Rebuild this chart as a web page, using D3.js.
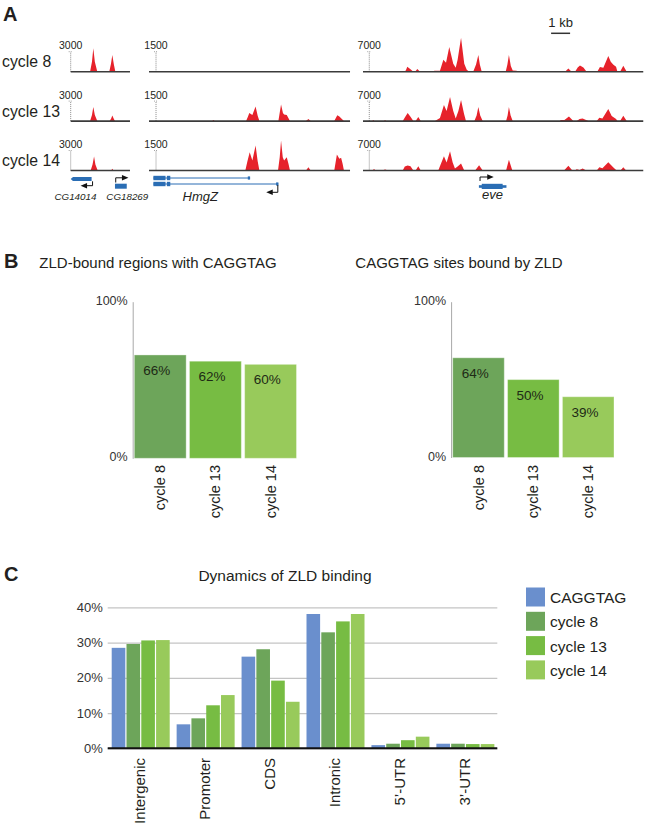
<!DOCTYPE html>
<html><head><meta charset="utf-8">
<script src="https://cdn.jsdelivr.net/npm/d3@7"></script>
<style>
html,body{margin:0;padding:0;background:#fff;}
svg{display:block;font-family:"Liberation Sans",Arial,Helvetica,sans-serif;}
</style></head><body>
<svg id="fig" width="649" height="832"></svg>
<script>
// ---------------- DATA ----------------
// Panel A: ChIP-seq coverage tracks ([position kb, read value])
const cycles = ["cycle 8", "cycle 13", "cycle 14"];
const trackScaleLabels = [3000, 1500, 7000];
const trackLengthsKb = [3.12, 10.58, 14.75];

const track1_c8  = [[0,0],[1.02,0],[1.12,1500],[1.19,3500],[1.27,1500],[1.40,0],[2.03,0],[2.12,1200],[2.19,2500],[2.27,1100],[2.35,0],[3.12,0]];
const track1_c13 = [[0,0],[1.02,0],[1.12,900],[1.19,2100],[1.27,900],[1.40,0],[2.05,0],[2.13,400],[2.19,850],[2.26,400],[2.33,0],[3.12,0]];
const track1_c14 = [[0,0],[1.05,0],[1.15,900],[1.23,2100],[1.30,900],[1.42,0],[2.13,0],[2.19,250],[2.25,0],[3.12,0]];

const track2_c8  = [[0,0],[10.58,0]];
const track2_c13 = [[0,0],[3.33,0],[3.39,75],[3.45,0],[5.11,0],[5.20,300],[5.28,600],[5.44,450],[5.61,1100],[5.72,400],[5.81,0],[6.81,0],[6.95,1250],[7.05,600],[7.11,490],[7.25,450],[7.42,0],[8.26,0],[8.39,150],[8.51,0],[9.75,0],[9.91,430],[10.02,350],[10.26,0],[10.58,0]];
const track2_c14 = [[0,0],[5.07,0],[5.18,700],[5.30,1375],[5.44,750],[5.61,1875],[5.72,700],[5.81,0],[6.79,0],[6.88,1000],[6.95,2250],[7.04,1000],[7.11,750],[7.25,1000],[7.34,500],[7.42,0],[8.26,0],[8.39,250],[8.51,0],[9.75,0],[9.89,1200],[10.02,875],[10.11,950],[10.19,500],[10.26,0],[10.58,0]];

const track3_c8  = [[0,0],[2.21,0],[2.28,900],[2.33,1750],[2.50,900],[2.65,0],[2.74,0],[2.86,950],[3.00,0],[3.70,0],[3.75,350],[4.05,350],[4.23,4200],[4.37,3150],[4.54,8650],[4.75,2800],[4.88,1400],[4.98,4200],[5.16,11900],[5.33,2800],[5.46,700],[5.56,200],[5.81,200],[5.95,2500],[6.07,5850],[6.15,2500],[6.25,0],[7.51,0],[7.60,2500],[7.68,5850],[7.78,2000],[7.88,400],[8.09,300],[8.12,0],[10.63,0],[10.81,1150],[10.98,0],[11.16,0],[11.30,1500],[11.42,2200],[11.60,1500],[11.77,0],[12.33,0],[12.47,1650],[12.65,1400],[12.91,5500],[13.04,3500],[13.18,2450],[13.32,1750],[13.39,0],[13.53,0],[13.70,2100],[13.88,0],[14.75,0]];
const track3_c13 = [[0,0],[0.49,0],[0.54,350],[0.59,0],[1.11,0],[1.16,350],[1.21,0],[2.09,0],[2.25,1800],[2.35,2800],[2.50,1500],[2.65,0],[2.77,0],[2.91,1400],[3.04,0],[3.79,0],[4.05,1050],[4.26,5600],[4.40,3500],[4.58,8400],[4.75,3500],[4.88,950],[5.02,3500],[5.16,7350],[5.32,2450],[5.42,0],[5.86,0],[5.98,2000],[6.07,4900],[6.17,2000],[6.30,0],[7.53,0],[7.61,2000],[7.68,4900],[7.77,2000],[7.88,0],[10.37,0],[10.40,350],[10.60,350],[10.84,1650],[11.07,0],[11.25,0],[11.40,700],[11.56,950],[11.86,0],[12.30,0],[12.44,1150],[12.60,900],[12.91,4200],[13.09,1750],[13.32,700],[13.39,0],[13.53,0],[13.70,1850],[13.88,0],[14.75,0]];
const track3_c14 = [[0,0],[0.50,0],[0.58,525],[0.66,0],[1.00,0],[1.16,350],[1.33,0],[2.09,0],[2.20,1400],[2.35,1750],[2.50,1500],[2.65,0],[2.77,0],[2.91,1500],[3.04,0],[3.96,0],[4.26,5000],[4.40,2800],[4.58,6750],[4.72,2800],[4.84,700],[4.98,1400],[5.16,2450],[5.33,0],[5.90,0],[6.11,1850],[6.30,0],[7.53,0],[7.68,3750],[7.86,0],[10.58,0],[10.81,1650],[11.02,0],[11.15,0],[11.25,450],[11.40,200],[11.56,700],[11.75,0],[12.30,0],[12.44,1150],[12.60,800],[12.91,2900],[13.18,1050],[13.35,0],[13.55,0],[13.70,1150],[13.85,0],[14.75,0]];

const geneNames = ["CG14014", "CG18269", "HmgZ", "eve"];

// Panel B
const bCycles = ["cycle 8", "cycle 13", "cycle 14"];
const regionsWithMotif = [66, 62, 60];
const sitesBoundByZLD = [64, 50, 39];
const bTicks = [0, 100];

// Panel C
const cCategories = ["Intergenic", "Promoter", "CDS", "Intronic", "5\u2019-UTR", "3\u2019-UTR"];
const cSeries = ["CAGGTAG", "cycle 8", "cycle 13", "cycle 14"];
const cCAGGTAG = [28.5, 6.8, 26.0, 38.1, 0.9, 1.3];
const cCycle8  = [29.6, 8.5, 28.1, 32.9, 1.3, 1.3];
const cCycle13 = [30.6, 12.2, 19.2, 36.0, 2.3, 1.2];
const cCycle14 = [30.7, 15.1, 13.2, 38.1, 3.3, 1.2];
const cTicks = [0, 10, 20, 30, 40];

// ---------------- DRAWING ----------------
const svg = d3.select("#fig");
const TXT = "#231f20";
const RED = "#e6222b";
const GENE = "#2a6db4";
const greens = ["#6da55a", "#77bc43", "#98ca5b"];
const seriesColor = d3.scaleOrdinal().domain(cSeries).range(["#6a8fcd", ...greens]);

function panelLabel(t, x, y) {
  svg.append("text").attr("x", x).attr("y", y).attr("font-size", 20).attr("font-weight", "bold")
    .attr("fill", TXT).text(t);
}

// ======== Panel A ========
panelLabel("A", 3, 21);
const rowY = d3.scalePoint().domain(cycles).range([71.7, 170.5]);
const PX_PER_KB = 19;
const trackX0 = [70.7, 149, 363];
const dottedKb = [0.0, 0.37, 0.33];
const trackData = [
  [track1_c8, track1_c13, track1_c14],
  [track2_c8, track2_c13, track2_c14],
  [track3_c8, track3_c13, track3_c14]
];
const xTrack = trackLengthsKb.map((len, i) =>
  d3.scaleLinear().domain([0, len]).range([trackX0[i], trackX0[i] + len * PX_PER_KB]));

cycles.forEach((cyc, j) => {
  const base = rowY(cyc);
  svg.append("text").attr("x", 2).attr("y", base - 4.5).attr("font-size", 15.8).attr("fill", TXT).text(cyc);
  trackData.forEach((rows, i) => {
    const x = xTrack[i];
    const y = d3.scaleLinear().domain([0, trackScaleLabels[i]]).range([base, base - 20]);
    const g = svg.append("g");
    const dx = x(dottedKb[i]);
    g.append("line").attr("x1", dx).attr("x2", dx).attr("y1", base).attr("y2", y(trackScaleLabels[i]))
      .attr("stroke", "#8a8a8a").attr("stroke-width", 1).attr("stroke-dasharray", "1,1");
    g.append("line").attr("x1", dx - 2).attr("x2", dx + 2).attr("y1", y(trackScaleLabels[i])).attr("y2", y(trackScaleLabels[i]))
      .attr("stroke", "#8a8a8a").attr("stroke-width", 0.8).attr("stroke-dasharray", "1,1");
    g.append("text").attr("x", dx).attr("y", y(trackScaleLabels[i]) - 2.5).attr("text-anchor", "middle")
      .attr("font-size", 10.5).attr("fill", TXT).text(trackScaleLabels[i]);
    const area = d3.area().x(d => x(d[0])).y0(base).y1(d => y(d[1]));
    g.append("path").datum(rows[j]).attr("d", area).attr("fill", RED);
    g.append("line").attr("x1", x.range()[0]).attr("x2", x.range()[1]).attr("y1", base).attr("y2", base)
      .attr("stroke", "#3b3b3b").attr("stroke-width", 1.6);
  });
});

// scale bar 1 kb
{
  const x = xTrack[2];
  svg.append("line").attr("x1", x(9.9)).attr("x2", x(10.9)).attr("y1", 33.3).attr("y2", 33.3)
    .attr("stroke", "#333").attr("stroke-width", 1.5);
  svg.append("text").attr("x", (x(9.9) + x(10.9)) / 2).attr("y", 27).attr("text-anchor", "middle")
    .attr("font-size", 13).attr("fill", TXT).text("1 kb");
}

// gene models
function arrowHead(g, tipX, y, dir) {
  g.append("path").attr("d", d3.line()([[tipX, y], [tipX - dir * 6.5, y - 2.8], [tipX - dir * 6.5, y + 2.8]]) + "Z")
    .attr("fill", "#111");
}
{
  const g = svg.append("g");
  const x1 = xTrack[0], x2 = xTrack[1], x3 = xTrack[2];
  // CG14014 (minus strand)
  g.append("rect").attr("x", x1(0.12)).attr("y", 177).attr("width", x1(1.10) - x1(0.12)).attr("height", 4).attr("fill", GENE);
  g.append("path").attr("d", d3.line()([[x1(0.12), 177], [x1(0.0), 179], [x1(0.12), 181]]) + "Z").attr("fill", GENE);
  g.append("path").attr("d", d3.line()([[x1(1.15), 181.3], [x1(1.15), 185.7], [x1(0.70), 185.7]]))
    .attr("fill", "none").attr("stroke", "#111").attr("stroke-width", 1);
  arrowHead(g, x1(0.52), 185.7, -1);
  // CG18269 (plus strand)
  g.append("rect").attr("x", x1(2.33)).attr("y", 183.7).attr("width", x1(2.95) - x1(2.33)).attr("height", 5).attr("fill", GENE);
  g.append("path").attr("d", d3.line()([[x1(2.37), 182.5], [x1(2.37), 177.8], [x1(2.75), 177.8]]))
    .attr("fill", "none").attr("stroke", "#111").attr("stroke-width", 1);
  arrowHead(g, x1(3.04), 177.8, 1);
  g.append("text").attr("x", x1(0.25)).attr("y", 199.5).attr("text-anchor", "middle").attr("font-size", 9.8)
    .attr("font-style", "italic").attr("fill", TXT).text(geneNames[0]);
  g.append("text").attr("x", x1(2.98)).attr("y", 199.5).attr("text-anchor", "middle").attr("font-size", 9.8)
    .attr("font-style", "italic").attr("fill", TXT).text(geneNames[1]);
  // HmgZ transcripts
  [[178, 5.32], [184, 6.81]].forEach(([yy, end]) => {
    g.append("line").attr("x1", x2(0.23)).attr("x2", x2(end)).attr("y1", yy).attr("y2", yy).attr("stroke", GENE).attr("stroke-width", 1);
    g.append("rect").attr("x", x2(0.23)).attr("y", yy - 2.2).attr("width", x2(0.87) - x2(0.23)).attr("height", 4.4).attr("fill", GENE);
    g.append("rect").attr("x", x2(0.94)).attr("y", yy - 2.2).attr("width", x2(1.12) - x2(0.94)).attr("height", 4.4).attr("fill", GENE);
    g.append("rect").attr("x", x2(end - 0.12)).attr("y", yy - 1.6).attr("width", x2(end) - x2(end - 0.12)).attr("height", 3.2).attr("fill", GENE);
  });
  g.append("path").attr("d", d3.line()([[x2(6.78), 185], [x2(6.78), 192.3], [x2(6.4), 192.3]]))
    .attr("fill", "none").attr("stroke", "#111").attr("stroke-width", 1);
  arrowHead(g, x2(6.17), 192.3, -1);
  g.append("text").attr("x", x2(2.7)).attr("y", 200.5).attr("text-anchor", "middle").attr("font-size", 13)
    .attr("font-style", "italic").attr("fill", TXT).text(geneNames[2]);
  // eve
  g.append("rect").attr("x", x3(6.1)).attr("y", 185.2).attr("width", x3(7.55) - x3(6.1)).attr("height", 2.6).attr("fill", GENE);
  g.append("rect").attr("x", x3(6.25)).attr("y", 183.8).attr("width", x3(7.35) - x3(6.25)).attr("height", 5.2).attr("fill", GENE);
  g.append("path").attr("d", d3.line()([[x3(6.16), 181], [x3(6.16), 177], [x3(6.6), 177]]))
    .attr("fill", "none").attr("stroke", "#111").attr("stroke-width", 1);
  arrowHead(g, x3(6.88), 177, 1);
  g.append("text").attr("x", x3(6.82)).attr("y", 199).attr("text-anchor", "middle").attr("font-size", 13)
    .attr("font-style", "italic").attr("fill", TXT).text(geneNames[3]);
}

// ======== Panel B ========
panelLabel("B", 4, 268);
function barPanel(values, title, titleX, xRange, yBottom) {
  const x = d3.scaleBand().domain(bCycles).range(xRange).paddingInner(0.06);
  const y = d3.scaleLinear().domain([0, 100]).range([yBottom, 301.7]);
  const g = svg.append("g");
  g.append("text").attr("x", titleX).attr("y", 268).attr("text-anchor", "middle").attr("font-size", 15)
    .attr("fill", TXT).text(title);
  const axX = xRange[0] - 1.6;
  const ax = g.append("g").attr("transform", `translate(${axX},0)`)
    .call(d3.axisLeft(y).tickValues(bTicks).tickSize(0).tickPadding(5).tickFormat(d => d + "%"));
  ax.select(".domain").attr("stroke", "#a8a8a8").attr("stroke-width", 1);
  ax.selectAll("text").attr("font-size", 12.5).attr("fill", "#333").attr("font-family", null);
  ax.selectAll(".tick text").attr("dy", (d) => d === 100 ? "0.25em" : "0.2em");
  const bars = g.selectAll(".bar").data(bCycles).enter();
  bars.append("rect").attr("x", d => x(d)).attr("width", x.bandwidth())
    .attr("y", (d, i) => y(values[i])).attr("height", (d, i) => y(0) - y(values[i]))
    .attr("fill", (d, i) => greens[i]).attr("stroke", "#ffffff").attr("stroke-opacity", 0.35).attr("stroke-width", 1);
  bars.append("text").attr("x", d => x(d) + 9).attr("y", (d, i) => y(values[i]) + 20)
    .attr("font-size", 13.5).attr("fill", "#1e2a16").text((d, i) => values[i] + "%");
  bars.append("text").attr("transform", d => `translate(${x(d) + x.bandwidth() / 2},465) rotate(-90)`)
    .attr("text-anchor", "end").attr("dy", "0.35em").attr("font-size", 14.5).attr("fill", TXT).text(d => d);
}
barPanel(regionsWithMotif, "ZLD-bound regions with CAGGTAG", 158, [134.3, 296.5], 458.3);
barPanel(sitesBoundByZLD, "CAGGTAG sites bound by ZLD", 459, [452.7, 614], 457.5);

// ======== Panel C ========
panelLabel("C", 4, 581);
{
  const g = svg.append("g");
  const x = d3.scaleBand().domain(cCategories).range([107.7, 497.3]);
  const xs = d3.scaleBand().domain(cSeries).range([4, 62]).paddingInner(0.08);
  const y = d3.scaleLinear().domain([0, 40]).range([748.3, 607.3]);
  const seriesValues = [cCAGGTAG, cCycle8, cCycle13, cCycle14];

  g.append("text").attr("x", 285).attr("y", 581).attr("text-anchor", "middle").attr("font-size", 15.5)
    .attr("fill", TXT).text("Dynamics of ZLD binding");

  const ax = g.append("g").attr("transform", "translate(107.7,0)")
    .call(d3.axisLeft(y).tickValues(cTicks).tickSize(-(497.3 - 107.7)).tickPadding(5).tickFormat(d => d + "%"));
  ax.select(".domain").remove();
  ax.selectAll(".tick line").attr("stroke", "#c4c4c4").attr("stroke-width", 1.2);
  ax.selectAll(".tick text").attr("font-size", 13).attr("fill", "#333").attr("font-family", null);

  cSeries.forEach((s, si) => {
    g.selectAll(".b" + si).data(cCategories).enter().append("rect")
      .attr("x", d => x(d) + xs(s)).attr("width", xs.bandwidth())
      .attr("y", (d, ci) => y(seriesValues[si][ci])).attr("height", (d, ci) => y(0) - y(seriesValues[si][ci]))
      .attr("fill", seriesColor(s));
  });
  g.append("line").attr("x1", 107.7).attr("x2", 497.3).attr("y1", y(0)).attr("y2", y(0))
    .attr("stroke", "#111").attr("stroke-width", 2);

  g.selectAll(".cl").data(cCategories).enter().append("text")
    .attr("transform", d => `translate(${x(d) + x.bandwidth() / 2},758) rotate(-90)`)
    .attr("text-anchor", "end").attr("dy", "0.35em").attr("font-size", 15).attr("fill", TXT).text(d => d);

  const lg = svg.append("g");
  cSeries.forEach((s, i) => {
    const yy = 587.5 + i * 24.3;
    lg.append("rect").attr("x", 526).attr("y", yy).attr("width", 19).attr("height", 19).attr("fill", seriesColor(s));
    lg.append("text").attr("x", 550).attr("y", yy + 15.5).attr("font-size", 15.5).attr("fill", TXT).text(s);
  });
}
</script>
</body></html>
